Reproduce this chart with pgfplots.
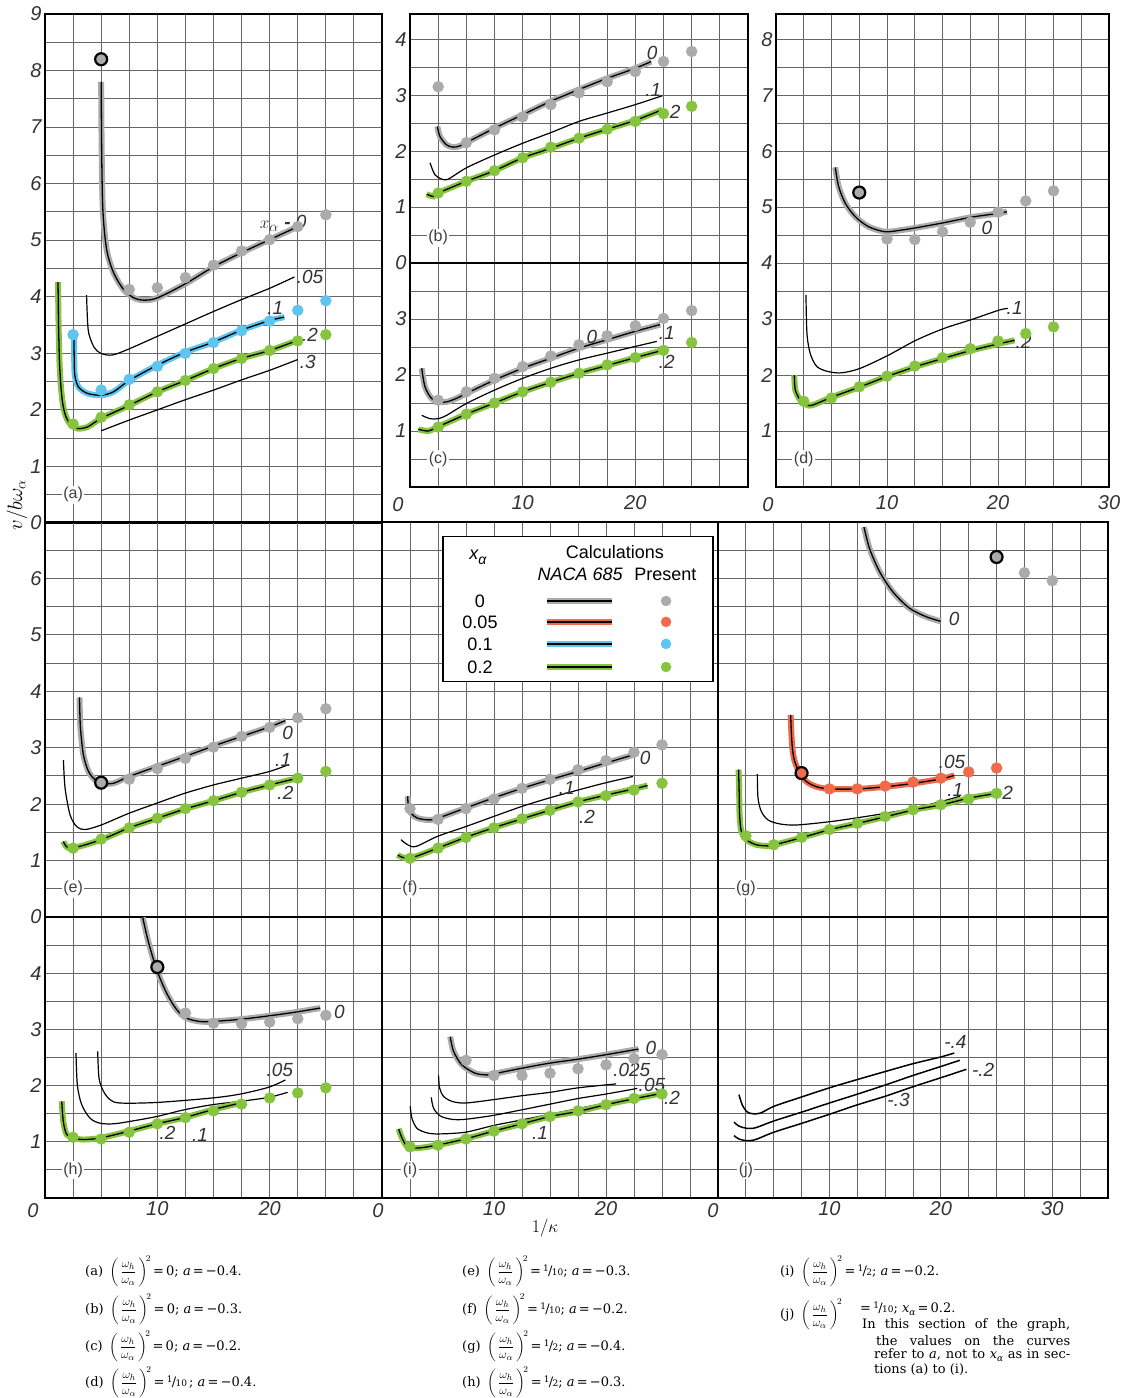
\documentclass[border=0pt]{standalone}
\usepackage{amsmath}
\usepackage{fontspec}
\usepackage{pgfplots}
\pgfplotsset{compat=1.18}
\newfontfamily\sansf{Liberation Sans}
\newfontfamily\capserif{DejaVu Serif}
\definecolor{gridc}{gray}{0.40}
\definecolor{cGray}{HTML}{ABABAB}
\definecolor{cGreen}{HTML}{86C440}
\definecolor{cBlue}{HTML}{5DC5EF}
\definecolor{cRed}{HTML}{EF6B4C}
\newcommand\tickf{\sansf\itshape\fontsize{20}{20}\selectfont}
\newcommand\labf{\sansf\itshape\fontsize{19}{19}\selectfont}
\newcommand\panf{\sansf\fontsize{16}{16}\selectfont}
\newcommand\legf{\sansf\fontsize{18}{18}\selectfont}
\newcommand\capf{\capserif\fontsize{13}{16}\selectfont}
\newcommand\frc{$\left(\,\dfrac{\omega_h}{\omega_\alpha}\,\right)^{\!2}$}
\newcommand\vf[2]{\raisebox{0.5ex}{\fontsize{9}{9}\selectfont#1}\kern-0.05em/\kern-0.05em{\fontsize{9}{9}\selectfont#2}}
\newcommand\xa{\textit{x}\raisebox{-0.25em}{\fontsize{9}{9}\selectfont\textit{α}}}
\pgfplotsset{
 panel/.style={scale only axis, anchor=south west, xmin=0, ymin=0, xmax=30,
   xtick={0,2.5,...,30},
   grid=major, major grid style={draw=gridc, line width=0.9pt},
   major tick length=0pt,
   axis line style={line width=1.7pt},
   tick label style={font=\tickf, text=black!80},
   enlargelimits=false, clip=true},
 halo/.style={black, line width=1.3pt, smooth, no marks, preaction={draw=#1, line width=6pt}},
 crv/.style={black, line width=1.2pt, smooth, no marks},
 dots/.style={only marks, mark=*, mark size=5.5pt, mark options={draw=#1, fill=#1}},
 big/.style={only marks, mark=*, mark size=6pt, mark options={draw=black, fill=#1, line width=2.2pt}},
}
\tikzset{lab/.style={font=\labf, text=black!80, inner sep=1pt},
  plab/.style={font=\panf, text=black!75, fill=white, inner sep=1.5pt},
  capt/.style={anchor=west, font=\capf, inner sep=0pt}}
\begin{document}
\begin{tikzpicture}
\path[use as bounding box, fill=white] (0,0) rectangle (1125pt,1398pt);

% ---------------- (a)
\begin{axis}[panel, at={(45pt,875pt)}, width=337pt, height=509pt, ymax=9,
 ytick={0,0.5,...,9}, xticklabels={}, yticklabels={0,,1,,2,,3,,4,,5,,6,,7,,8,,9}]
\addplot[dots=cGray] coordinates {(7.5,4.13)(10,4.16)(12.5,4.34)(15,4.56)(17.5,4.81)(20,5.01)(22.5,5.24)(25,5.45)};
\addplot[dots=cBlue] coordinates {(2.5,3.33)(5,2.35)(7.5,2.54)(10,2.77)(12.5,3.0)(15,3.19)(17.5,3.4)(20,3.57)(22.5,3.76)(25,3.93)};
\addplot[dots=cGreen] coordinates {(2.5,1.75)(5,1.87)(7.5,2.09)(10,2.32)(12.5,2.52)(15,2.73)(17.5,2.91)(20,3.05)(22.5,3.22)(25,3.33)};
\addplot[halo=cGray] coordinates {(5.0,7.8)(5.05,6.5)(5.16,5.5)(5.5,4.82)(6.14,4.41)(7.03,4.12)(7.92,3.98)(8.81,3.94)(10,3.98)(12.5,4.23)(15,4.53)(17.5,4.78)(20,5.01)(22.5,5.24)};
\addplot[crv] coordinates {(3.7,4.03)(3.78,3.6)(3.9,3.35)(4.36,3.11)(4.96,3.0)(6.0,2.97)(7.5,3.08)(10,3.3)(12.5,3.52)(15,3.74)(17.5,3.95)(20,4.15)(22.2,4.35)};
\addplot[halo=cBlue] coordinates {(2.58,3.33)(2.6,2.9)(2.66,2.6)(3.0,2.4)(3.8,2.29)(5.0,2.26)(6.1,2.32)(7.5,2.52)(10,2.79)(12.5,3.02)(15,3.2)(17.5,3.41)(20,3.58)(21.3,3.64)};
\addplot[halo=cGreen] coordinates {(1.16,4.26)(1.2,3.6)(1.28,2.9)(1.4,2.46)(1.55,2.15)(1.75,1.95)(2.0,1.82)(2.3,1.74)(2.9,1.67)(3.8,1.7)(5,1.85)(7.5,2.08)(10,2.32)(12.5,2.52)(15,2.73)(17.5,2.91)(20,3.05)(22.5,3.23)};
\addplot[crv] coordinates {(5,1.63)(7.5,1.82)(10,2.0)(12.5,2.18)(15,2.35)(17.5,2.53)(20,2.7)(22.5,2.89)};
\addplot[big=cGray] coordinates {(5,8.2)};
\node[lab] at (axis cs:21.2,5.3) {$x_\alpha$\ \textbf{-}\ 0};
\node[lab] at (axis cs:23.6,4.35) {.05};
\node[lab] at (axis cs:20.5,3.8) {.1};
\node[lab] at (axis cs:23.6,3.32) {.2};
\node[lab] at (axis cs:23.4,2.85) {.3};
\node[plab] at (axis cs:2.5,0.5) {(a)};
\end{axis}

% ---------------- (b)
\begin{axis}[panel, at={(410pt,1135pt)}, width=338pt, height=249pt, ymax=4.45,
 ytick={0,0.5,...,4}, xticklabels={}, yticklabels={0,,1,,2,,3,,4}]
\addplot[dots=cGray] coordinates {(2.5,3.15)(5,2.15)(7.5,2.38)(10,2.61)(12.5,2.83)(15,3.04)(17.5,3.24)(20,3.42)(22.5,3.6)(25,3.78)};
\addplot[dots=cGreen] coordinates {(2.5,1.25)(5,1.46)(7.5,1.65)(10,1.88)(12.5,2.07)(15,2.23)(17.5,2.39)(20,2.53)(22.5,2.67)(25,2.8)};
\addplot[halo=cGray] coordinates {(2.43,2.44)(2.66,2.26)(3.25,2.11)(3.85,2.07)(4.4,2.09)(5,2.15)(7.5,2.41)(10,2.65)(12.5,2.89)(15,3.1)(17.5,3.3)(20,3.48)(21.4,3.6)};
\addplot[crv] coordinates {(1.78,1.79)(2.2,1.58)(2.8,1.5)(3.4,1.5)(5,1.7)(7.5,1.93)(10,2.14)(12.5,2.33)(15,2.53)(17.5,2.68)(20,2.83)(22.4,2.99)};
\addplot[halo=cGreen] coordinates {(1.48,1.23)(2.07,1.19)(2.5,1.25)(5,1.46)(7.5,1.65)(10,1.88)(12.5,2.05)(15,2.23)(17.5,2.39)(20,2.55)(22.4,2.74)};
\node[lab] at (axis cs:21.5,3.75) {0};
\node[lab] at (axis cs:21.6,3.09) {.1};
\node[lab] at (axis cs:23.3,2.7) {.2};
\node[plab] at (axis cs:2.5,0.45) {(b)};
\end{axis}

% ---------------- (c)
\begin{axis}[panel, at={(410pt,911pt)}, width=338pt, height=224pt, ymax=4,
 ytick={0,0.5,...,4}, yticklabels={,,1,,2,,3,,}, xticklabels={,,,,10,,,,20,,,,},
 xticklabel style={yshift=-5pt}]
\addplot[dots=cGray] coordinates {(2.5,1.55)(5,1.7)(7.5,1.94)(10,2.15)(12.5,2.34)(15,2.54)(17.5,2.7)(20,2.88)(22.5,3.01)(25,3.15)};
\addplot[dots=cGreen] coordinates {(2.5,1.07)(5,1.3)(7.5,1.5)(10,1.7)(12.5,1.87)(15,2.03)(17.5,2.18)(20,2.31)(22.5,2.44)(25,2.58)};
\addplot[halo=cGray] coordinates {(1.04,2.12)(1.33,1.79)(1.92,1.58)(2.66,1.52)(3.25,1.52)(4.1,1.58)(5,1.67)(7.5,1.91)(10,2.12)(12.5,2.3)(15,2.48)(17.5,2.63)(20,2.78)(22.2,2.9)};
\addplot[crv] coordinates {(1.04,1.28)(1.78,1.22)(2.5,1.22)(3.25,1.28)(5,1.49)(7.5,1.73)(10,1.94)(12.5,2.12)(15,2.27)(17.5,2.39)(20,2.51)(21.9,2.6)};
\addplot[halo=cGreen] coordinates {(0.74,1.03)(1.63,1.0)(2.43,1.07)(5,1.3)(7.5,1.5)(10,1.7)(12.5,1.87)(15,2.03)(17.5,2.17)(20,2.31)(22.4,2.44)};
\node[lab] at (axis cs:16.15,2.68) {0};
\node[lab] at (axis cs:22.8,2.75) {.1};
\node[lab] at (axis cs:22.8,2.23) {.2};
\node[plab] at (axis cs:2.5,0.5) {(c)};
\end{axis}

% ---------------- (d)
\begin{axis}[panel, at={(776pt,911pt)}, width=333pt, height=473pt, ymax=8.45,
 ytick={0,0.5,...,8}, yticklabels={,,1,,2,,3,,4,,5,,6,,7,,8}, xticklabels={,,,,10,,,,20,,,,30},
 xticklabel style={yshift=-5pt}]
\addplot[dots=cGray] coordinates {(10,4.43)(12.5,4.42)(15,4.56)(17.5,4.73)(20,4.91)(22.5,5.11)(25,5.29)};
\addplot[dots=cGreen] coordinates {(2.5,1.53)(5,1.59)(7.5,1.79)(10,1.98)(12.5,2.16)(15,2.31)(17.5,2.47)(20,2.61)(22.5,2.74)(25,2.86)};
\addplot[halo=cGray] coordinates {(5.34,5.71)(5.64,5.37)(6.24,5.07)(7.14,4.83)(8.34,4.65)(9.84,4.56)(11.3,4.59)(12.6,4.63)(15.1,4.72)(17.6,4.82)(20.1,4.89)(20.8,4.92)};
\addplot[crv] coordinates {(2.7,3.43)(2.79,2.74)(3.09,2.38)(3.69,2.15)(4.74,2.06)(5.94,2.04)(7.59,2.12)(10.08,2.35)(12.6,2.62)(15.1,2.83)(17.6,2.99)(20.1,3.16)(20.9,3.19)};
\addplot[halo=cGreen] coordinates {(1.65,2.0)(1.74,1.73)(2.19,1.55)(2.64,1.48)(3.24,1.46)(5.1,1.61)(7.59,1.79)(10.08,1.98)(12.6,2.15)(15.1,2.3)(17.6,2.44)(20.1,2.56)(21.5,2.62)};
\addplot[big=cGray] coordinates {(7.5,5.26)};
\node[lab] at (axis cs:19.0,4.63) {0};
\node[lab] at (axis cs:21.5,3.2) {.1};
\node[lab] at (axis cs:22.3,2.59) {.2};
\node[plab] at (axis cs:2.5,0.5) {(d)};
\end{axis}

% ---------------- (e)
\begin{axis}[panel, at={(45pt,481pt)}, width=337pt, height=395pt, ymax=7,
 ytick={0,0.5,...,7}, xticklabels={}, yticklabels={0,,1,,2,,3,,4,,5,,6,,}]
\addplot[dots=cGray] coordinates {(7.5,2.44)(10,2.63)(12.5,2.81)(15,3.01)(17.5,3.2)(20,3.36)(22.5,3.53)(25,3.69)};
\addplot[dots=cGreen] coordinates {(2.5,1.22)(5,1.38)(7.5,1.58)(10,1.75)(12.5,1.92)(15,2.06)(17.5,2.21)(20,2.34)(22.5,2.46)(25,2.58)};
\addplot[halo=cGray] coordinates {(3.07,3.89)(3.12,3.5)(3.18,3.29)(3.42,2.87)(3.87,2.58)(4.46,2.43)(5.06,2.37)(6.1,2.37)(7.5,2.49)(10,2.67)(12.4,2.84)(15,3.03)(17.5,3.2)(20,3.37)(21.4,3.48)};
\addplot[crv] coordinates {(1.64,2.78)(1.79,2.28)(2.23,1.81)(2.83,1.6)(3.57,1.55)(5,1.63)(7.5,1.84)(10,2.02)(12.4,2.19)(15,2.34)(17.5,2.46)(20,2.58)(21.7,2.7)};
\addplot[halo=cGreen] coordinates {(1.64,1.34)(1.85,1.26)(2.47,1.22)(5,1.37)(7.5,1.58)(10,1.75)(12.4,1.91)(15,2.06)(17.5,2.21)(20,2.34)(22.5,2.46)};
\addplot[big=cGray] coordinates {(5,2.38)};
\node[lab] at (axis cs:21.6,3.26) {0};
\node[lab] at (axis cs:21.2,2.78) {.1};
\node[lab] at (axis cs:21.4,2.2) {.2};
\node[plab] at (axis cs:2.5,0.5) {(e)};
\end{axis}

% ---------------- (f) with legend
\begin{axis}[panel, at={(382pt,481pt)}, width=336pt, height=395pt, ymax=7,
 ytick={0,0.5,...,7}, xticklabels={}, yticklabels={}]
\addplot[dots=cGray] coordinates {(2.5,1.92)(5,1.73)(7.5,1.92)(10,2.09)(12.5,2.28)(15,2.44)(17.5,2.61)(20,2.77)(22.5,2.92)(25,3.05)};
\addplot[dots=cGreen] coordinates {(2.5,1.04)(5,1.22)(7.5,1.41)(10,1.58)(12.5,1.74)(15,1.89)(17.5,2.04)(20,2.15)(22.5,2.25)(25,2.37)};
\addplot[halo=cGray] coordinates {(2.29,2.14)(2.35,1.99)(2.59,1.84)(3.19,1.75)(4.23,1.72)(4.97,1.75)(7.45,1.93)(9.95,2.11)(12.5,2.28)(14.95,2.43)(17.5,2.58)(20,2.73)(22.4,2.87)};
\addplot[crv] coordinates {(1.7,1.37)(2.29,1.28)(3.04,1.25)(4.97,1.43)(7.45,1.6)(9.95,1.78)(12.5,1.96)(14.95,2.11)(17.5,2.25)(20,2.38)(22.4,2.49)};
\addplot[halo=cGreen] coordinates {(1.4,1.1)(2.44,1.04)(4.97,1.22)(7.45,1.41)(9.95,1.58)(12.5,1.74)(14.95,1.89)(17.5,2.04)(20,2.16)(22.5,2.27)(23.7,2.33)};
\node[lab] at (axis cs:23.5,2.82) {0};
\node[lab] at (axis cs:16.5,2.29) {.1};
\node[lab] at (axis cs:18.3,1.77) {.2};
\node[plab] at (axis cs:2.5,0.5) {(f)};
% legend
\addplot[draw=black, line width=1.4pt, fill=white] coordinates {(5.45,4.17)(29.55,4.17)(29.55,6.74)(5.45,6.74)} -- cycle;
\addplot[halo=cGray] coordinates {(14.73,5.6)(20.5,5.6)};
\addplot[halo=cRed] coordinates {(14.73,5.23)(20.5,5.23)};
\addplot[halo=cBlue] coordinates {(14.73,4.84)(20.5,4.84)};
\addplot[halo=cGreen] coordinates {(14.73,4.43)(20.5,4.43)};
\addplot[dots=cGray, mark size=5pt] coordinates {(25.36,5.6)};
\addplot[dots=cRed, mark size=5pt] coordinates {(25.36,5.23)};
\addplot[dots=cBlue, mark size=5pt] coordinates {(25.36,4.84)};
\addplot[dots=cGreen, mark size=5pt] coordinates {(25.36,4.43)};
\node[font=\legf\itshape] at (axis cs:8.57,6.37) {x\raisebox{-0.3em}{\fontsize{14}{14}\selectfont α}};
\node[font=\legf] at (axis cs:20.8,6.47) {Calculations};
\node[font=\legf] at (axis cs:17.7,6.08) {\itshape NACA 685};
\node[font=\legf] at (axis cs:25.3,6.08) {Present};
\node[font=\legf] at (axis cs:8.75,5.6) {0};
\node[font=\legf] at (axis cs:8.75,5.23) {0.05};
\node[font=\legf] at (axis cs:8.75,4.84) {0.1};
\node[font=\legf] at (axis cs:8.75,4.43) {0.2};
\end{axis}

% ---------------- (g)
\begin{axis}[panel, at={(718pt,481pt)}, width=390pt, height=395pt, xmax=35, xtick={0,2.5,...,35}, ymax=7,
 ytick={0,0.5,...,7}, xticklabels={}, yticklabels={}]
\addplot[dots=cGray] coordinates {(27.5,6.1)(30,5.96)};
\addplot[dots=cRed] coordinates {(10,2.27)(12.5,2.27)(15,2.32)(17.5,2.39)(20,2.46)(22.5,2.57)(25,2.64)};
\addplot[dots=cGreen] coordinates {(2.5,1.44)(5,1.28)(7.5,1.41)(10,1.55)(12.5,1.66)(15,1.78)(17.5,1.9)(20,1.99)(22.5,2.09)(25,2.19)};
\addplot[halo=cGray] coordinates {(13.1,6.91)(13.6,6.53)(14.5,6.12)(15.7,5.76)(17.2,5.47)(18.7,5.32)(20.0,5.24)};
\addplot[halo=cRed] coordinates {(6.52,3.58)(6.6,3.2)(6.7,2.95)(6.88,2.76)(7.33,2.55)(7.93,2.4)(8.82,2.31)(10,2.27)(12.56,2.27)(15.1,2.31)(17.6,2.37)(20.1,2.45)(21.2,2.51)};
\addplot[crv] coordinates {(3.53,2.53)(3.59,2.11)(3.89,1.87)(4.49,1.72)(5.53,1.65)(7.03,1.63)(10.08,1.69)(12.56,1.76)(15.1,1.84)(17.6,1.93)(20.1,2.05)(21.7,2.14)};
\addplot[halo=cGreen] coordinates {(1.85,2.61)(1.9,2.2)(1.94,1.81)(2.09,1.52)(2.54,1.37)(3.44,1.28)(4.49,1.26)(5.09,1.28)(7.57,1.41)(10.08,1.55)(12.56,1.66)(15.1,1.78)(17.6,1.9)(20.1,1.99)(22.6,2.11)(25,2.19)};
\addplot[big=cGray] coordinates {(25,6.38)};
\addplot[big=cRed] coordinates {(7.5,2.55)};
\node[lab] at (axis cs:21.2,5.28) {0};
\node[lab] at (axis cs:21.0,2.75) {.05};
\node[lab] at (axis cs:21.3,2.25) {.1};
\node[lab] at (axis cs:26.0,2.2) {2};
\node[plab] at (axis cs:2.5,0.5) {(g)};
\end{axis}

% ---------------- (h)
\begin{axis}[panel, at={(45pt,200pt)}, width=337pt, height=281pt, ymax=5,
 ytick={0,0.5,...,5}, yticklabels={,,1,,2,,3,,4,,}, xticklabels={,,,,10,,,,20,,,,}]
\addplot[dots=cGray] coordinates {(12.5,3.29)(15,3.11)(17.5,3.1)(20,3.13)(22.5,3.19)(25,3.25)};
\addplot[dots=cGreen] coordinates {(2.5,1.08)(5,1.05)(7.5,1.17)(10,1.32)(12.5,1.43)(15,1.55)(17.5,1.67)(20,1.78)(22.5,1.87)(25,1.96)};
\addplot[halo=cGray] coordinates {(8.7,4.99)(9.2,4.56)(9.95,4.06)(10.84,3.64)(11.73,3.35)(12.6,3.2)(13.8,3.14)(14.9,3.14)(17.4,3.18)(19.9,3.24)(22.4,3.31)(24.5,3.38)};
\addplot[crv] coordinates {(4.69,2.61)(4.81,2.13)(5.2,1.9)(5.79,1.75)(6.68,1.69)(9.95,1.7)(14.9,1.78)(17.4,1.85)(19.9,1.97)(21.4,2.1)};
\addplot[crv] coordinates {(2.76,2.58)(2.88,2.01)(3.27,1.66)(4.01,1.42)(4.9,1.33)(6.09,1.32)(7.48,1.36)(9.95,1.45)(12.4,1.57)(14.9,1.66)(17.4,1.72)(19.9,1.79)(21.6,1.88)};
\addplot[halo=cGreen] coordinates {(1.49,1.72)(1.63,1.36)(1.93,1.13)(2.52,1.07)(3.42,1.04)(4.99,1.07)(7.48,1.19)(9.95,1.32)(12.4,1.43)(14.9,1.57)(17.4,1.69)};
\addplot[big=cGray] coordinates {(10,4.11)};
\node[lab] at (axis cs:26.2,3.31) {0};
\node[lab] at (axis cs:20.9,2.28) {.05};
\node[lab] at (axis cs:10.9,1.16) {.2};
\node[lab] at (axis cs:13.8,1.12) {.1};
\node[plab] at (axis cs:2.5,0.5) {(h)};
\end{axis}

% ---------------- (i)
\begin{axis}[panel, at={(382pt,200pt)}, width=336pt, height=281pt, ymax=5,
 ytick={0,0.5,...,5}, yticklabels={}, xticklabels={,,,,10,,,,20,,,,}]
\addplot[dots=cGray] coordinates {(7.5,2.45)(10,2.18)(12.5,2.18)(15,2.22)(17.5,2.3)(20,2.37)(22.5,2.48)(25,2.55)};
\addplot[dots=cGreen] coordinates {(2.5,0.91)(5,0.94)(7.5,1.05)(10,1.19)(12.5,1.32)(15,1.45)(17.5,1.55)(20,1.66)(22.5,1.77)(25,1.85)};
\addplot[halo=cGray] coordinates {(6.09,2.87)(6.39,2.61)(7.13,2.37)(8.32,2.22)(9.4,2.19)(10,2.21)(12.5,2.31)(15,2.4)(17.5,2.47)(20,2.55)(22.9,2.65)};
\addplot[crv] coordinates {(5.05,2.18)(5.14,1.96)(5.49,1.81)(6.24,1.72)(7.43,1.69)(9.95,1.75)(12.5,1.82)(15,1.88)(17.5,1.96)(20.9,2.03)};
\addplot[crv] coordinates {(4.4,1.79)(4.6,1.6)(5.2,1.46)(6.24,1.4)(7.43,1.4)(9.95,1.47)(12.5,1.57)(15,1.67)(17.5,1.77)(20,1.85)(22.8,1.95)};
\addplot[crv] coordinates {(2.52,1.63)(2.67,1.42)(3.12,1.24)(4.0,1.16)(5.05,1.14)(7.43,1.17)(9.95,1.29)(12.5,1.39)(15,1.49)(17.5,1.59)(20,1.69)(22.6,1.78)(24.9,1.85)};
\addplot[halo=cGreen] coordinates {(1.49,1.23)(1.78,1.07)(2.29,0.91)(3.27,0.89)(4.9,0.94)(7.43,1.05)(9.95,1.19)(12.5,1.32)(15,1.45)(17.5,1.54)(20,1.66)(22.6,1.77)(25.2,1.87)};
\node[lab] at (axis cs:24.0,2.67) {0};
\node[lab] at (axis cs:22.3,2.28) {.025};
\node[lab] at (axis cs:24.1,2.01) {.05};
\node[lab] at (axis cs:25.9,1.78) {.2};
\node[lab] at (axis cs:14.1,1.16) {.1};
\node[plab] at (axis cs:2.5,0.5) {(i)};
\end{axis}

% ---------------- (j)
\begin{axis}[panel, at={(718pt,200pt)}, width=390pt, height=281pt, xmax=35, xtick={0,2.5,...,35}, ymax=5,
 ytick={0,0.5,...,5}, yticklabels={}, xticklabels={,,,,10,,,,20,,,,30,,}]
\addplot[crv, line width=1.5pt] coordinates {(1.88,1.84)(2.17,1.66)(2.56,1.54)(3.07,1.5)(3.81,1.51)(5.0,1.63)(7.54,1.8)(10,1.96)(12.54,2.11)(15,2.25)(17.5,2.39)(20,2.51)(21.2,2.58)};
\addplot[crv, line width=1.5pt] coordinates {(1.43,1.35)(1.88,1.28)(2.56,1.24)(3.37,1.25)(5.0,1.37)(7.54,1.53)(10,1.69)(12.54,1.85)(15,2.01)(17.5,2.18)(20,2.34)(21.7,2.45)};
\addplot[crv, line width=1.5pt] coordinates {(1.43,1.11)(1.88,1.05)(2.56,1.02)(3.37,1.04)(5.0,1.17)(7.54,1.33)(10,1.49)(12.54,1.66)(15,1.81)(17.5,1.98)(20,2.14)(22.3,2.29)};
\node[lab] at (axis cs:21.3,2.78) {-.4};
\node[lab] at (axis cs:23.8,2.28) {-.2};
\node[lab] at (axis cs:16.2,1.74) {-.3};
\node[plab] at (axis cs:2.5,0.5) {(j)};
\end{axis}

% corner zeros and axis titles
\node[font=\tickf, text=black!80] at (398pt,893pt) {0};
\node[font=\tickf, text=black!80] at (768pt,893pt) {0};
\node[font=\tickf, text=black!80] at (33pt,187pt) {0};
\node[font=\tickf, text=black!80] at (378pt,187pt) {0};
\node[font=\tickf, text=black!80] at (713pt,187pt) {0};
\node[rotate=90, font=\fontsize{20}{20}\selectfont] at (17pt,893pt) {$v/b\omega_\alpha$};
\node[font=\fontsize{18}{18}\selectfont] at (545pt,170pt) {1/$\kappa$};

% captions
\node[capt] at (85pt,127pt) {(a)\enspace\frc\,=\,0; \textit{a}\,=\,−0.4.};
\node[capt] at (85pt,89pt) {(b)\enspace\frc\,=\,0; \textit{a}\,=\,−0.3.};
\node[capt] at (85pt,52pt) {(c)\enspace\frc\,=\,0; \textit{a}\,=\,−0.2.};
\node[capt] at (85pt,16pt) {(d)\enspace\frc\,=\,\vf{1}{10}\,; \textit{a}\,=\,−0.4.};
\node[capt] at (462pt,127pt) {(e)\enspace\frc\,=\,\vf{1}{10}; \textit{a}\,=\,−0.3.};
\node[capt] at (462pt,89pt) {(f)\enspace\frc\,=\,\vf{1}{10}; \textit{a}\,=\,−0.2.};
\node[capt] at (462pt,52pt) {(g)\enspace\frc\,=\,\vf{1}{2}; \textit{a}\,=\,−0.4.};
\node[capt] at (462pt,16pt) {(h)\enspace\frc\,=\,\vf{1}{2}; \textit{a}\,=\,−0.3.};
\node[capt] at (780pt,127pt) {(i)\enspace\frc\,=\,\vf{1}{2}; \textit{a}\,=\,−0.2.};
\node[capt] at (780pt,84pt) {(j)\enspace\frc};
\node[capt] at (860pt,89pt) {=\,\vf{1}{10}; \xa\,=\,0.2.};
\node[capt] at (862pt,73pt) {\makebox[208pt][s]{In this section of the graph,}};
\node[capt] at (876pt,57pt) {\makebox[194pt][s]{the values on the curves}};
\node[capt] at (874pt,43pt) {\makebox[196pt][s]{refer to \textit{a}, not to \xa{} as in sec-}};
\node[capt] at (874pt,28pt) {tions (a) to (i).};
\end{tikzpicture}
\end{document}
